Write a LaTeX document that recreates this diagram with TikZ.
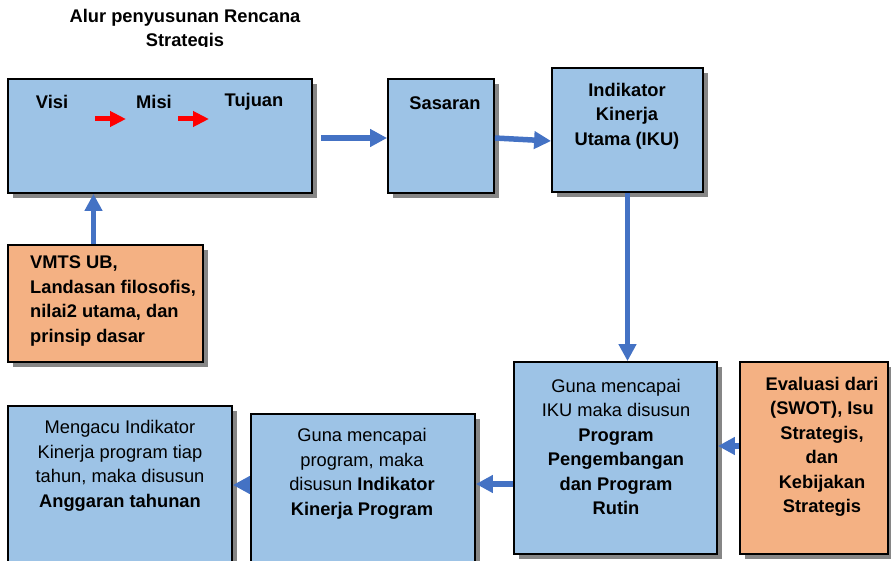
\documentclass[tikz,border=0pt]{standalone}
\usepackage{fontspec}
\setmainfont{Liberation Sans}
\usetikzlibrary{arrows.meta,shadows}
\definecolor{boxblue}{RGB}{157,195,230}
\definecolor{boxorange}{RGB}{244,177,131}
\definecolor{arrowblue}{RGB}{68,114,196}

\begin{document}
\begin{tikzpicture}[x=1pt,y=-1pt,
	box/.style={draw=black,line width=1.8pt,drop shadow={shadow xshift=5pt,shadow yshift=-5pt,fill=gray!95,opacity=1}},
	bluebox/.style={box,fill=boxblue},
	orangebox/.style={box,fill=boxorange},
	txt/.style={inner sep=0pt,align=center,font=\fontsize{18.3}{24.5}\selectfont},
	flow/.style={arrowblue,line width=5.5pt,-{Triangle[length=17pt,width=17pt]}},
	redflow/.style={red,line width=5pt,-{Triangle[length=16pt,width=15pt]}}]
			\useasboundingbox (0,0) rectangle (891,561);
			%title, cut off at the bottom
			\begin{scope}
				\clip (0,0) rectangle (891,47);
				\node[txt] (title) at (185,30) {\bfseries Alur penyusunan Rencana\\ \bfseries Strategis};
			\end{scope}
			
			%top row
			\node[bluebox,minimum width=304pt,minimum height=114pt] (visi) at (160,136) {};
			\node[bluebox,minimum width=106pt,minimum height=114pt] (sasaran) at (441,136) {};
			\node[bluebox,minimum width=151pt,minimum height=124pt] (iku) at (627.5,130) {};
			\node[orangebox,minimum width=195pt,minimum height=117pt] (vmts) at (105.5,303.5) {};
			
			\node[txt] (visitxt) at (52,102) {\bfseries Visi};
			\node[txt] (misitxt) at (154,102) {\bfseries Misi};
			\node[txt] (tujuantxt) at (254,102) {\bfseries Tujuan};
			\node[txt] (sasarantxt) at (445,103) {\bfseries Sasaran};
			\node[txt] (ikutxt) at (627,116) {\bfseries Indikator\\ \bfseries Kinerja\\ \bfseries Utama (IKU)};
			\node[txt,align=left,anchor=west] (vmtstxt) at (30,301) {\bfseries VMTS UB,\\ \bfseries Landasan filosofis,\\ \bfseries nilai2 utama, dan\\ \bfseries prinsip dasar};
			
			%bottom row
			\node[bluebox,minimum width=203pt,minimum height=192pt] (program) at (615.5,458) {};
			\node[orangebox,minimum width=148pt,minimum height=192pt] (evaluasi) at (814,458) {};
			\node[bluebox,minimum width=224pt,minimum height=174pt] (mengacu) at (120,493) {};
			\node[bluebox,minimum width=224pt,minimum height=166pt] (ikp) at (363,497) {};
			
			\node[txt] (programtxt) at (616,447) {Guna mencapai\\ IKU maka disusun\\ \bfseries Program\\ \bfseries Pengembangan\\ \bfseries dan Program\\ \bfseries Rutin};
			\node[txt] (evaluasitxt) at (822,447) {\bfseries Evaluasi dari\\ \bfseries (SWOT), Isu\\ \bfseries Strategis,\\ \bfseries dan\\ \bfseries Kebijakan\\ \bfseries Strategis};
			\node[txt] (mengacutxt) at (120,466) {Mengacu Indikator\\ Kinerja program tiap\\ tahun, maka disusun\\ \bfseries Anggaran tahunan};
			\node[txt] (ikptxt) at (362,474) {Guna mencapai\\ program, maka\\ disusun \textbf{Indikator}\\ \bfseries Kinerja Program};
			
			%red arrows between Visi, Misi, Tujuan
			\coordinate (r1) at (95,119);
			\coordinate (r2) at (178,119);
			\foreach \c in {r1, r2}{
				\draw[redflow] (\c) -- ++(31,0);
			}
			
			%blue connectors
			\draw[flow] ([xshift=8pt,yshift=-2pt]visi.east) -- ([yshift=-2pt]sasaran.west);
			\draw[flow] ([yshift=-2pt]sasaran.east) -- ([yshift=-11pt]iku.west);
			\draw[flow] (iku.south) -- (iku.south |- program.north);
			\draw[flow] ([xshift=-12pt]vmts.north) -- ([xshift=-12pt]vmts.north |- visi.south);
			\draw[flow] ([yshift=12pt]evaluasi.west) -- ([yshift=12pt]program.east);
			\draw[flow] ([yshift=-26pt]program.west) -- ([yshift=-26pt]program.west -| ikp.east);
			\draw[flow] ([yshift=-27pt]program.west -| ikp.west) -- ([yshift=-27pt]program.west -| mengacu.east);
		\end{tikzpicture}
\end{document}
